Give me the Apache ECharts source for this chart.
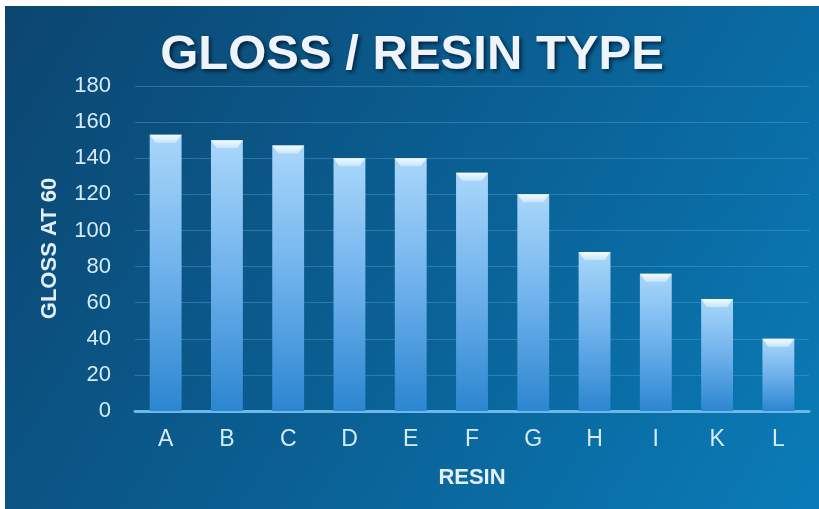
<!DOCTYPE html>
<html>
<head>
<meta charset="utf-8">
<script src="https://cdn.jsdelivr.net/npm/echarts@6/dist/echarts.min.js"></script>
<style>
  html, body { margin: 0; padding: 0; background: #fff; }
  #main { position: absolute; left: 5px; top: 6px; width: 814px; height: 503px; }
</style>
</head>
<body>
<div id="main"></div>
<script>
// 数据
var resins = ['A', 'B', 'C', 'D', 'E', 'F', 'G', 'H', 'I', 'K', 'L'];
var gloss = [153, 150, 147, 140, 140, 132, 120, 88, 76, 62, 40];

var chart = echarts.init(document.getElementById('main'));

var font = 'Liberation Sans, Arial, sans-serif';

// 柱顶的斜面高光
function bevel(params, api) {
    var idx = api.value(0);
    var top = api.coord([idx, api.value(1)]);
    var w = api.size([1, 0])[0] * 0.52;
    var x0 = top[0] - w / 2, x1 = top[0] + w / 2, y = top[1];
    return {
        type: 'polygon',
        shape: { points: [[x0, y], [x1, y], [x1 - 6, y + 8], [x0 + 6, y + 8]] },
        style: {
            fill: new echarts.graphic.LinearGradient(0, 0, 0, 1, [
                { offset: 0, color: '#f4fbff' },
                { offset: 1, color: '#c6e6fb' }
            ])
        }
    };
}

var option = {
    backgroundColor: new echarts.graphic.LinearGradient(0, 0, 1, 1, [
        { offset: 0, color: '#0c4670' },
        { offset: 0.5, color: '#0a5f93' },
        { offset: 1, color: '#0a7cb8' }
    ]),
    title: {
        text: 'GLOSS / RESIN TYPE',
        left: 'center',
        top: 20,
        textStyle: {
            color: '#eef4f9',
            fontFamily: font,
            fontWeight: 'bold',
            fontSize: 49,
            textShadowColor: 'rgba(0,15,35,0.8)',
            textShadowBlur: 4,
            textShadowOffsetX: 2,
            textShadowOffsetY: 2
        }
    },
    grid: {
        left: 130,
        right: 10,
        top: 80,
        bottom: 98
    },
    xAxis: {
        type: 'category',
        data: resins,
        name: 'RESIN',
        nameLocation: 'middle',
        nameGap: 56,
        nameTextStyle: { color: '#e3f0f9', fontFamily: font, fontWeight: 'bold', fontSize: 22 },
        axisLine: { lineStyle: { color: '#6cb8ea', width: 3 } },
        axisTick: { show: false },
        axisLabel: { color: '#d6ebf8', fontFamily: font, fontSize: 23, margin: 17 }
    },
    yAxis: {
        type: 'value',
        min: 0,
        max: 180,
        interval: 20,
        name: 'GLOSS AT 60',
        nameLocation: 'middle',
        nameGap: 74,
        nameRotate: 90,
        nameTextStyle: { color: '#e3f0f9', fontFamily: font, fontWeight: 'bold', fontSize: 22 },
        axisLine: { show: false },
        axisTick: { show: false },
        axisLabel: { color: '#d6ebf8', fontFamily: font, fontSize: 22, margin: 24 },
        splitLine: { lineStyle: { color: 'rgba(110,175,220,0.35)', width: 1 } }
    },
    series: [{
        name: 'Gloss',
        type: 'bar',
        data: gloss,
        barWidth: '52%',
        itemStyle: {
            color: new echarts.graphic.LinearGradient(0, 0, 0, 1, [
                { offset: 0, color: '#a9d7fa' },
                { offset: 0.5, color: '#6eb1ec' },
                { offset: 1, color: '#2c86d0' }
            ]),
            shadowColor: 'rgba(0,20,50,0.6)',
            shadowBlur: 5,
            shadowOffsetX: 2
        }
    }, {
        name: 'Bevel',
        type: 'custom',
        renderItem: bevel,
        data: gloss.map(function (v, i) { return [i, v]; }),
        z: 5,
        silent: true
    }]
};
chart.setOption(option);
</script>
</body>
</html>
